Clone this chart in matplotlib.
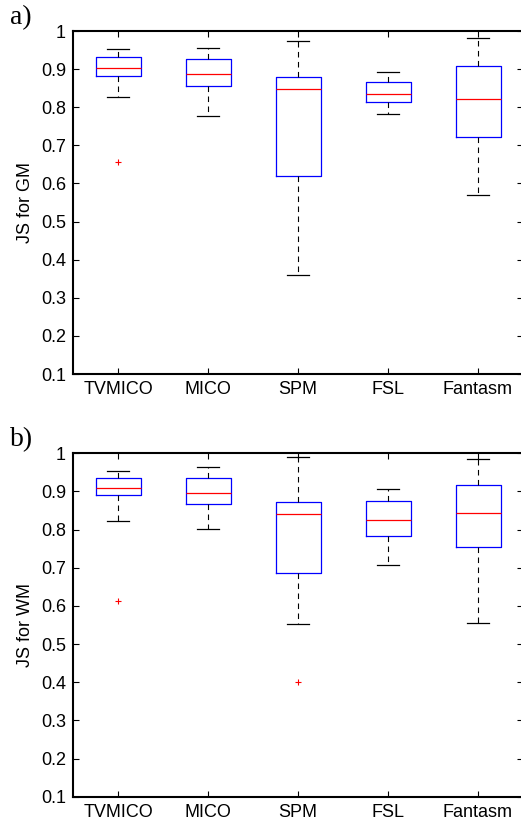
import numpy as np
import matplotlib
matplotlib.use('Agg')
import matplotlib.pyplot as plt

# box statistics (MATLAB style boxplots)
methods = ['TVMICO', 'MICO', 'SPM', 'FSL', 'Fantasm']

# a) JS for GM
gm_whislo = [0.826, 0.777, 0.360, 0.783, 0.570]
gm_q1     = [0.881, 0.856, 0.620, 0.813, 0.722]
gm_med    = [0.902, 0.887, 0.847, 0.835, 0.822]
gm_q3     = [0.933, 0.927, 0.878, 0.866, 0.907]
gm_whishi = [0.953, 0.956, 0.975, 0.893, 0.982]
gm_fliers = [[0.657], [], [], [], []]

# b) JS for WM
wm_whislo = [0.823, 0.802, 0.552, 0.708, 0.554]
wm_q1     = [0.890, 0.866, 0.685, 0.782, 0.755]
wm_med    = [0.910, 0.896, 0.840, 0.826, 0.843]
wm_q3     = [0.936, 0.936, 0.873, 0.874, 0.916]
wm_whishi = [0.953, 0.965, 0.989, 0.906, 0.984]
wm_fliers = [[0.614], [], [0.400], [], []]

yticks = [0.1, 0.2, 0.3, 0.4, 0.5, 0.6, 0.7, 0.8, 0.9, 1.0]
ytick_labels = ['0.1', '0.2', '0.3', '0.4', '0.5', '0.6', '0.7', '0.8', '0.9', '1']

plt.rcParams['font.family'] = ['Liberation Sans', 'DejaVu Sans']

W, H = 521, 826
fig = plt.figure(figsize=(W / 100, H / 100), dpi=100)


def make_stats(lo, q1, med, q3, hi, fl):
    stats = []
    for i in range(len(methods)):
        stats.append(dict(whislo=lo[i], q1=q1[i], med=med[i], q3=q3[i],
                          whishi=hi[i], fliers=fl[i], label=methods[i]))
    return stats


def draw_panel(ax, stats, ylabel):
    ax.bxp(stats, positions=np.arange(1, len(methods) + 1), widths=0.5,
           showfliers=True,
           boxprops=dict(color='#0000ff', linewidth=0.9),
           medianprops=dict(color='#ff0000', linewidth=0.9),
           whiskerprops=dict(color='black', linewidth=0.8, linestyle=(0, (5, 4))),
           capprops=dict(color='black', linewidth=0.9),
           capwidths=0.25,
           flierprops=dict(marker='+', markeredgecolor='#ff0000',
                           markersize=4, markeredgewidth=0.8, linestyle='none'))
    ax.set_xlim(0.5, 5.5)
    ax.set_ylim(0.1, 1.0)
    ax.set_yticks(yticks)
    ax.set_yticklabels(ytick_labels)
    ax.set_xticks(np.arange(1, len(methods) + 1))
    ax.set_xticklabels(methods)
    ax.tick_params(direction='in', top=True, right=True, length=4,
                   width=0.8, labelsize=13, pad=5)
    for s in ax.spines.values():
        s.set_linewidth(1.5)
    ax.set_ylabel(ylabel, fontsize=13, labelpad=5)


# axes positions in pixels: left 73, right ~523
left = 73 / W
width = 450 / W
ax1 = fig.add_axes([left, 1 - 374 / H, width, (374 - 31) / H])
ax2 = fig.add_axes([left, 1 - 796.7 / H, width, (796.7 - 453.3) / H])

draw_panel(ax1, make_stats(gm_whislo, gm_q1, gm_med, gm_q3, gm_whishi, gm_fliers), 'JS for GM')
draw_panel(ax2, make_stats(wm_whislo, wm_q1, wm_med, wm_q3, wm_whishi, wm_fliers), 'JS for WM')

fig.text(10 / W, 1 - 18 / H, 'a)', family='Liberation Serif', fontsize=20, va='center', ha='left')
fig.text(10 / W, 1 - 440 / H, 'b)', family='Liberation Serif', fontsize=20, va='center', ha='left')

fig.savefig('out.png', dpi=100)
